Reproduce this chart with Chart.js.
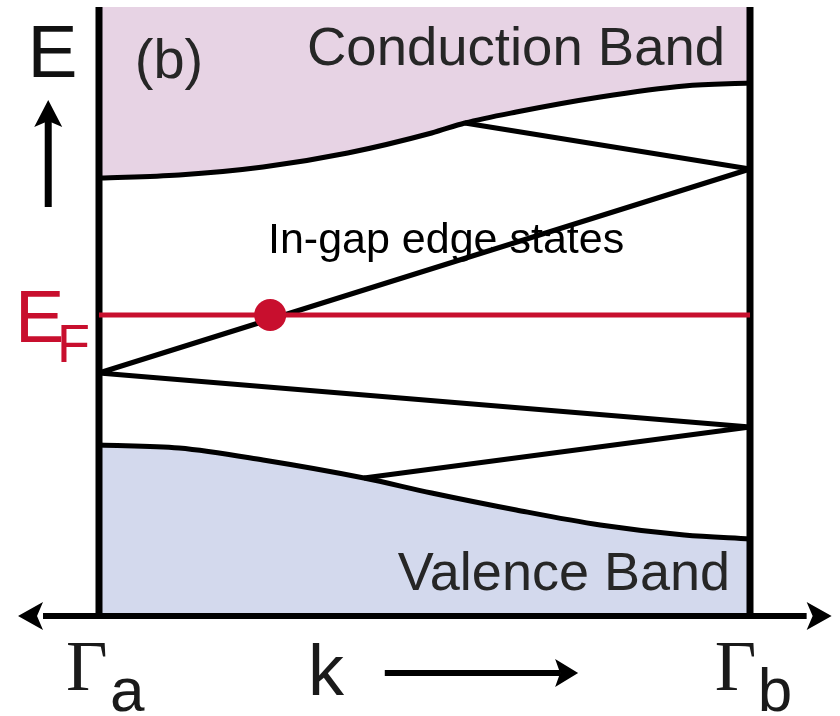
<!DOCTYPE html>
<html>
<head>
<meta charset="utf-8">
<script src="https://cdn.jsdelivr.net/npm/chart.js@4.4.1/dist/chart.umd.min.js"></script>
<style>
  html, body { margin: 0; padding: 0; background: #fff; }
  canvas { display: block; }
</style>
</head>
<body>
<canvas id="bandChart" width="840" height="716"></canvas>
<script>
// Schéma de bandes : k va de Γa (0) à Γb (1), énergie relative à E_F (unités arbitraires)

// Bas de la bande de conduction
const kConduction = [0, 0.123, 0.252, 0.382, 0.511, 0.562, 0.641, 0.770, 0.899, 1];
const eConduction = [1.37, 1.40, 1.48, 1.62, 1.82, 1.92, 2.03, 2.18, 2.29, 2.32];

// Haut de la bande de valence
const kValence = [0, 0.123, 0.252, 0.407, 0.511, 0.641, 0.770, 0.899, 1];
const eValence = [-1.30, -1.33, -1.45, -1.63, -1.78, -1.95, -2.10, -2.20, -2.24];

// Etats de bord dans le gap (ligne brisée)
const kEdge = [0.562, 1, 0, 1, 0.407];
const eEdge = [1.92, 1.46, -0.58, -1.12, -1.63];

// Niveau de Fermi + point de croisement
const eFermi = 0;
const kFermiLine = [0, 1];
const kFermiDot = 0.263;

// Cadre : bords de zone et axe k
const eTop = 3.08;
const eBottom = -3.01;
const kAxis = [-0.086, 1.087];

// Flèches des légendes d'axes
const kArrowE = -0.078;
const eArrowE = [1.08, 2.15];
const eArrowK = -3.58;
const kArrowK = [0.439, 0.736];

const RED = '#c80f2e';
const SANS = '"Liberation Sans", Arial, sans-serif';
const SERIF = '"Liberation Serif", "Times New Roman", serif';
const DARK = '#262626';

const labels = [
    { text: 'E', k: -0.110, e: 2.38, font: '75px ' + SANS, color: '#111' },
    { text: '(b)', k: 0.055, e: 2.37, font: '56px ' + SANS, color: DARK },
    { text: 'Conduction Band', k: 0.3195, e: 2.50, font: '54.5px ' + SANS, color: DARK },
    { text: 'In-gap edge states', k: 0.2596, e: 0.62, font: '43px ' + SANS, color: '#000' },
    { text: 'Valence Band', k: 0.459, e: -2.75, font: '54px ' + SANS, color: DARK },
    { text: 'E', k: -0.129, e: -0.27, font: '74px ' + SANS, color: RED },
    { text: 'F', k: -0.0645, e: -0.47, font: '54px ' + SANS, color: RED },
    { text: 'Γ', k: -0.0507, e: -3.75, font: '72px ' + SERIF, color: '#1a1a1a' },
    { text: 'a', k: 0.0169, e: -3.96, font: '62px ' + SANS, color: '#1a1a1a' },
    { text: 'k', k: 0.321, e: -3.80, font: '72px ' + SANS, color: '#1a1a1a' },
    { text: 'Γ', k: 0.946, e: -3.75, font: '72px ' + SERIF, color: '#1a1a1a' },
    { text: 'b', k: 1.012, e: -3.96, font: '62px ' + SANS, color: '#1a1a1a' }
];

const pts = (ks, es) => ks.map((k, i) => ({ x: k, y: es[i] }));

// Pointe de flèche style "stealth"
function arrowHead(c, tx, ty, dx, dy, len, half, notch) {
    const bx = tx - dx * len, by = ty - dy * len;
    const nx = -dy, ny = dx;
    c.beginPath();
    c.moveTo(tx, ty);
    c.lineTo(bx + nx * half, by + ny * half);
    c.lineTo(tx - dx * (len - notch), ty - dy * (len - notch));
    c.lineTo(bx - nx * half, by - ny * half);
    c.closePath();
    c.fill();
}

const decorPlugin = {
    id: 'decor',
    afterDatasetsDraw(chart) {
        const c = chart.ctx;
        const sx = chart.scales.x, sy = chart.scales.y;
        const px = v => sx.getPixelForValue(v);
        const py = v => sy.getPixelForValue(v);
        c.save();
        c.fillStyle = '#000';
        c.strokeStyle = '#000';

        // flèches aux deux bouts de l'axe k
        const ay = py(eBottom);
        arrowHead(c, px(kAxis[0]) - 25, ay, -1, 0, 25, 14, 6);
        arrowHead(c, px(kAxis[1]) + 25, ay, 1, 0, 25, 14, 6);

        // flèche E vers le haut
        const ex = px(kArrowE);
        c.lineWidth = 7;
        c.beginPath();
        c.moveTo(ex, py(eArrowE[0]));
        c.lineTo(ex, py(eArrowE[1]) + 20);
        c.stroke();
        arrowHead(c, ex, py(eArrowE[1]), 0, -1, 27, 14, 6);

        // flèche k vers la droite
        const ky = py(eArrowK);
        c.lineWidth = 6;
        c.beginPath();
        c.moveTo(px(kArrowK[0]), ky);
        c.lineTo(px(kArrowK[1]) - 18, ky);
        c.stroke();
        arrowHead(c, px(kArrowK[1]), ky, 1, 0, 23, 14, 5);

        // textes
        c.textAlign = 'left';
        c.textBaseline = 'alphabetic';
        labels.forEach(l => {
            c.font = l.font;
            c.fillStyle = l.color;
            c.fillText(l.text, px(l.k), py(l.e));
        });
        c.restore();
    }
};

new Chart(document.getElementById('bandChart').getContext('2d'), {
    type: 'scatter',
    data: {
        datasets: [
            {   // point au niveau de Fermi
                data: [{ x: kFermiDot, y: eFermi }],
                pointRadius: 16,
                backgroundColor: RED,
                borderWidth: 0,
                showLine: false
            },
            {   // ligne E_F
                data: kFermiLine.map(k => ({ x: k, y: eFermi })),
                showLine: true,
                borderColor: RED,
                borderWidth: 5,
                pointRadius: 0
            },
            {   // axe k
                data: kAxis.map(k => ({ x: k, y: eBottom })),
                showLine: true,
                borderColor: '#000',
                borderWidth: 6,
                pointRadius: 0
            },
            {   // bord Γa
                data: [{ x: 0, y: eTop }, { x: 0, y: eBottom }],
                showLine: true,
                borderColor: '#000',
                borderWidth: 7,
                pointRadius: 0
            },
            {   // bord Γb
                data: [{ x: 1, y: eTop }, { x: 1, y: eBottom }],
                showLine: true,
                borderColor: '#000',
                borderWidth: 7,
                pointRadius: 0
            },
            {   // états de bord
                data: pts(kEdge, eEdge),
                showLine: true,
                borderColor: '#000',
                borderWidth: 5,
                borderJoinStyle: 'round',
                pointRadius: 0,
                tension: 0
            },
            {   // bande de conduction
                data: pts(kConduction, eConduction),
                showLine: true,
                borderColor: '#000',
                borderWidth: 5,
                pointRadius: 0,
                cubicInterpolationMode: 'monotone',
                fill: { value: eTop },
                backgroundColor: '#e7d3e4'
            },
            {   // bande de valence
                data: pts(kValence, eValence),
                showLine: true,
                borderColor: '#000',
                borderWidth: 5,
                pointRadius: 0,
                cubicInterpolationMode: 'monotone',
                fill: { value: eBottom },
                backgroundColor: '#d3d9ed'
            }
        ]
    },
    options: {
        responsive: false,
        animation: false,
        layout: { padding: 0, autoPadding: false },
        plugins: {
            legend: { display: false },
            tooltip: { enabled: false }
        },
        scales: {
            x: { type: 'linear', display: false, min: -99 / 651, max: 741 / 651 },
            y: { type: 'linear', display: false, min: -4.01, max: 3.15 }
        }
    },
    plugins: [decorPlugin]
});
</script>
</body>
</html>
